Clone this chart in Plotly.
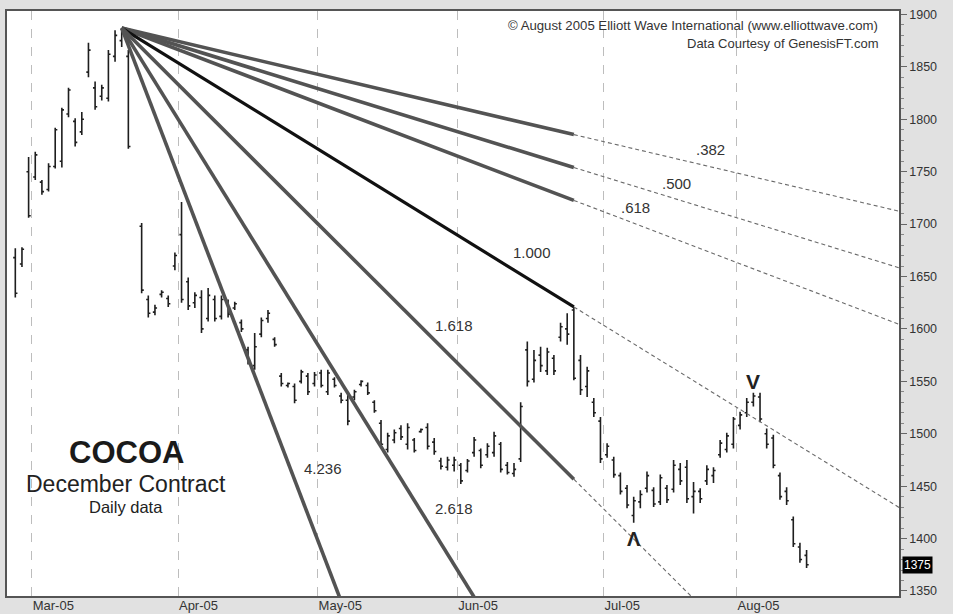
import plotly.graph_objects as go

# ---------------- data ----------------
dates = [
    "2005-02-24", "2005-02-25", "2005-02-28",
    "2005-03-01", "2005-03-02", "2005-03-03", "2005-03-04", "2005-03-07", "2005-03-08", "2005-03-09",
    "2005-03-10", "2005-03-11", "2005-03-14", "2005-03-15", "2005-03-16", "2005-03-17", "2005-03-18",
    "2005-03-21", "2005-03-22", "2005-03-23", "2005-03-24", "2005-03-28", "2005-03-29", "2005-03-30",
    "2005-03-31",
    "2005-04-01", "2005-04-04", "2005-04-05", "2005-04-06", "2005-04-07", "2005-04-08", "2005-04-11",
    "2005-04-12", "2005-04-13", "2005-04-14", "2005-04-15", "2005-04-18", "2005-04-19", "2005-04-20",
    "2005-04-21", "2005-04-22", "2005-04-25", "2005-04-26", "2005-04-27", "2005-04-28", "2005-04-29",
    "2005-05-02", "2005-05-03", "2005-05-04", "2005-05-05", "2005-05-06", "2005-05-09", "2005-05-10",
    "2005-05-11", "2005-05-12", "2005-05-13", "2005-05-16", "2005-05-17", "2005-05-18", "2005-05-19",
    "2005-05-20", "2005-05-23", "2005-05-24", "2005-05-25", "2005-05-26", "2005-05-27", "2005-05-31",
    "2005-06-01", "2005-06-02", "2005-06-03", "2005-06-06", "2005-06-07", "2005-06-08", "2005-06-09",
    "2005-06-10", "2005-06-13", "2005-06-14", "2005-06-15", "2005-06-16", "2005-06-17", "2005-06-20",
    "2005-06-21", "2005-06-22", "2005-06-23", "2005-06-24", "2005-06-27", "2005-06-28", "2005-06-29",
    "2005-06-30",
    "2005-07-01", "2005-07-05", "2005-07-06", "2005-07-07", "2005-07-08", "2005-07-11", "2005-07-12",
    "2005-07-13", "2005-07-14", "2005-07-15", "2005-07-18", "2005-07-19", "2005-07-20", "2005-07-21",
    "2005-07-22", "2005-07-25", "2005-07-26", "2005-07-27", "2005-07-28", "2005-07-29",
    "2005-08-01", "2005-08-02", "2005-08-03", "2005-08-04", "2005-08-05", "2005-08-08", "2005-08-09",
    "2005-08-10", "2005-08-11", "2005-08-12", "2005-08-15",
]

high = [1677, 1678, 1764,
        1769, 1742, 1758, 1792, 1811, 1830, 1801, 1807, 1873, 1836, 1833, 1866, 1885, 1887, 1866, None,
        1701, 1632, 1623, 1637, 1632, 1673,
        1721, 1649, 1635, 1637, 1639, 1632, 1632, 1628, 1626, 1609, 1583, 1596, 1611, 1618, 1592, 1558,
        1549, 1548, 1561, 1558, 1559,
        1561, 1561, 1554, 1539, 1539, 1542, 1551, 1549, 1532, 1513, 1501, 1504, 1508, 1510, 1496, 1505,
        1510, 1496, 1477, 1478, 1478,
        1472, 1476, 1497, 1486, 1491, 1502, 1492, 1473, 1472, 1530, 1588, 1580, 1583, 1582, 1575, 1606,
        1615, 1621, 1575, 1564, 1534, 1516,
        1491, 1478, 1463, 1451, 1440, 1446, 1464, 1449, 1461, 1451, 1475, 1472, 1475, 1454, 1448, 1470,
        1468, 1494, 1501, 1516,
        1521, 1534, 1539, 1539, 1505, 1499, 1463, 1449, 1421, 1396, 1389]

low = [1630, 1659, 1706,
       1742, 1728, 1731, 1753, 1754, 1802, 1774, 1785, 1840, 1809, 1818, 1817, 1855, 1869, 1772, None,
       1634, 1611, 1613, 1630, 1621, 1656,
       1625, 1618, 1620, 1596, 1607, 1607, 1609, 1611, 1618, 1597, 1566, 1561, 1592, 1606, 1583, 1545,
       1544, 1529, 1548, 1537, 1545,
       1544, 1537, 1544, 1529, 1508, 1532, 1545, 1537, 1520, 1487, 1482, 1491, 1494, 1485, 1482, 1501,
       1485, 1480, 1466, 1465, 1464,
       1452, 1463, 1478, 1467, 1477, 1478, 1463, 1461, 1459, 1473, 1545, 1549, 1559, 1556, 1556, 1588,
       1585, 1551, 1537, 1535, 1516, 1472,
       1477, 1458, 1442, 1429, 1415, 1429, 1444, 1430, 1432, 1434, 1444, 1451, 1434, 1424, 1434, 1451,
       1453, 1477, 1482, 1486,
       1504, 1516, 1526, 1511, 1486, 1467, 1437, 1432, 1392, 1377, 1372]

open_ = [1668, 1662, 1750,
         1745, 1740, 1733, 1755, 1760, 1805, 1798, 1788, 1845, 1830, 1822, 1820, 1860, 1875, 1860, None,
         1698, 1628, 1616, 1633, 1629, 1660,
         1690, 1645, 1625, 1630, 1610, 1628, 1612, 1625, 1620, 1606, 1580, 1565, 1595, 1610, 1590, 1555,
         1546, 1545, 1550, 1555, 1548,
         1558, 1540, 1552, 1536, 1532, 1535, 1547, 1546, 1530, 1510, 1485, 1494, 1505, 1490, 1494, 1502,
         1506, 1492, 1474, 1468, 1470,
         1470, 1465, 1482, 1484, 1480, 1482, 1490, 1470, 1462, 1476, 1580, 1552, 1575, 1560, 1572, 1592,
         1600, 1618, 1570, 1545, 1530, 1512,
         1480, 1475, 1460, 1448, 1422, 1435, 1448, 1446, 1435, 1448, 1447, 1466, 1468, 1440, 1445, 1455,
         1460, 1480, 1485, 1490,
         1508, 1520, 1530, 1535, 1500, 1496, 1460, 1445, 1418, 1392, 1384]

close = [1634, 1676, 1708,
         1766, 1731, 1755, 1790, 1809, 1828, 1778, 1800, 1866, 1812, 1830, 1862, 1880, 1882, 1774, None,
         1637, 1615, 1620, 1635, 1624, 1670,
         1628, 1622, 1632, 1600, 1632, 1610, 1628, 1614, 1624, 1600, 1570, 1583, 1608, 1615, 1585, 1548,
         1548, 1532, 1559, 1540, 1556,
         1546, 1558, 1546, 1532, 1512, 1540, 1550, 1539, 1522, 1490, 1498, 1501, 1497, 1506, 1484, 1504,
         1488, 1483, 1469, 1475, 1475,
         1455, 1474, 1494, 1470, 1488, 1498, 1466, 1463, 1466, 1526, 1550, 1570, 1565, 1578, 1560, 1602,
         1595, 1553, 1542, 1560, 1520, 1476,
         1488, 1461, 1445, 1432, 1436, 1442, 1460, 1433, 1458, 1437, 1470, 1455, 1438, 1445, 1438, 1466,
         1465, 1491, 1498, 1514,
         1518, 1530, 1536, 1514, 1490, 1470, 1440, 1436, 1395, 1380, 1375]

fan_ratios = [0.382, 0.5, 0.618, 1.0, 1.618, 2.618, 4.236]
fan_labels = [".382", ".500", ".618", "1.000", "1.618", "2.618", "4.236"]
# label anchor points (trading-day index, price)
fan_label_x = [104.5, 99.5, 93.3, 77.7, 66.0, 66.0, 46.2]
fan_label_y = [1771, 1739, 1716, 1673, 1603, 1429, 1467]
fan_anchor_date = "2005-06-24"   # the 1.000 line passes through this day's high

month_names = ["Jan", "Feb", "Mar", "Apr", "May", "Jun", "Jul", "Aug", "Sep", "Oct", "Nov", "Dec"]
y_ticks = [1350, 1400, 1450, 1500, 1550, 1600, 1650, 1700, 1750, 1800, 1850, 1900]
last_price = close[-1]

# ---------------- derived ----------------
idx = list(range(len(dates)))
rows = [(i, o, h, l, c) for i, o, h, l, c in zip(idx, open_, high, low, close) if h is not None]
bx = [r[0] for r in rows]
bo = [r[1] for r in rows]
bh = [r[2] for r in rows]
bl = [r[3] for r in rows]
bc = [r[4] for r in rows]

X_MIN, X_MAX = -1.25, 132.9
Y_MIN, Y_MAX = 1345.2, 1903.3

# month boundaries (gridlines halfway between last day of month and first day of next)
month_vals, month_text = [], []
for i in range(1, len(dates)):
    if dates[i][5:7] != dates[i - 1][5:7]:
        month_vals.append(i - 0.5)
        month_text.append(month_names[int(dates[i][5:7]) - 1] + "-" + dates[i][2:4])

valid_highs = [h if h is not None else -1 for h in high]
origin_i = valid_highs.index(max(valid_highs))
origin_p = high[origin_i]
anchor_i = dates.index(fan_anchor_date)
anchor_p = high[anchor_i]
base_slope = (anchor_p - origin_p) / (anchor_i - origin_i)

fig = go.Figure()

fig.add_trace(go.Ohlc(
    x=bx, open=bo, high=bh, low=bl, close=bc,
    increasing=dict(line=dict(color="#1e1e1e", width=1.6)),
    decreasing=dict(line=dict(color="#1e1e1e", width=1.6)),
    tickwidth=0.32, hoverinfo="skip", showlegend=False,
))

for r in fan_ratios:
    s = base_slope * r
    y_anchor = origin_p + s * (anchor_i - origin_i)
    y_end = origin_p + s * (X_MAX - origin_i)
    fig.add_trace(go.Scatter(
        x=[anchor_i, X_MAX], y=[y_anchor, y_end], mode="lines",
        line=dict(color="#6a6a6a", width=1.1, dash="4px,3px"),
        hoverinfo="skip", showlegend=False,
    ))
    is_one = abs(r - 1.0) < 1e-9
    fig.add_trace(go.Scatter(
        x=[origin_i, anchor_i], y=[origin_p, y_anchor], mode="lines",
        line=dict(color="#111111" if is_one else "#535353", width=3.2 if is_one else 3.6),
        hoverinfo="skip", showlegend=False,
    ))

FONT = "Liberation Sans, Arial"
annotations = []
for lab, lx, ly in zip(fan_labels, fan_label_x, fan_label_y):
    annotations.append(dict(x=lx, y=ly, text=lab, showarrow=False, xanchor="center", yanchor="middle",
                            font=dict(family=FONT, size=15, color="#333333")))

# swing markers
lo_i = 93
hi_i = 111
annotations.append(dict(x=hi_i, y=high[hi_i], text="<b>V</b>", showarrow=False, xanchor="center",
                        yanchor="bottom", yshift=-2,
                        font=dict(family=FONT, size=21, color="#222222")))
annotations.append(dict(x=lo_i, y=low[lo_i], text="<b>Λ</b>", showarrow=False, xanchor="center",
                        yanchor="top", yshift=-3,
                        font=dict(family=FONT, size=20, color="#222222")))

PW, PH, PL, PB = 892, 585, 7, 596


def px(xp):
    return (xp - PL) / PW


def py(yp):
    return (PB - yp) / PH


annotations += [
    dict(xref="paper", yref="paper", x=px(126), y=py(452), text="<b>COCOA</b>", showarrow=False,
         xanchor="center", yanchor="middle", font=dict(family=FONT, size=31, color="#1a1a1a")),
    dict(xref="paper", yref="paper", x=px(126), y=py(484), text="December Contract", showarrow=False,
         xanchor="center", yanchor="middle", font=dict(family=FONT, size=23, color="#222222")),
    dict(xref="paper", yref="paper", x=px(126), y=py(507), text="Daily data", showarrow=False,
         xanchor="center", yanchor="middle", font=dict(family=FONT, size=16.5, color="#222222")),
    dict(xref="paper", yref="paper", x=px(880), y=py(25), xanchor="right", yanchor="middle",
         text="© August 2005 Elliott Wave International (www.elliottwave.com)", showarrow=False,
         font=dict(family=FONT, size=13.2, color="#333333")),
    dict(xref="paper", yref="paper", x=px(880), y=py(43), xanchor="right", yanchor="middle",
         text="Data Courtesy of GenesisFT.com", showarrow=False,
         font=dict(family=FONT, size=13, color="#333333")),
    dict(xref="paper", yref="y", x=1, y=last_price, xanchor="left", yanchor="middle", xshift=3,
         text=str(last_price), showarrow=False, bgcolor="#000000", borderpad=1,
         font=dict(family=FONT, size=12, color="#ffffff")),
]

fig.update_layout(
    width=953, height=614,
    margin=dict(l=7, r=54, t=11, b=18, autoexpand=False),
    paper_bgcolor="#e1e1e1", plot_bgcolor="#ffffff",
    showlegend=False,
    annotations=annotations,
    xaxis=dict(
        range=[X_MIN, X_MAX], tickvals=month_vals, ticktext=month_text, automargin=False,
        ticklabelposition="outside right", ticks="", ticklabelstandoff=-3,
        showgrid=True, gridcolor="#bdbdbd", griddash="dash", gridwidth=1,
        showline=True, linecolor="#555555", linewidth=1.5, mirror=True,
        zeroline=False, rangeslider=dict(visible=False),
        tickfont=dict(family="Liberation Sans Narrow, Liberation Sans, Arial", size=13, color="#333333"),
    ),
    yaxis=dict(
        range=[Y_MIN, Y_MAX], side="right", tickvals=y_ticks, automargin=False,
        ticks="outside", ticklen=6, tickcolor="#666666",
        minor=dict(dtick=10, ticks="outside", ticklen=3, tickcolor="#888888", showgrid=False),
        showgrid=False, showline=True, linecolor="#555555", linewidth=1.5, mirror=True,
        zeroline=False,
        tickfont=dict(family=FONT, size=12.5, color="#333333"),
    ),
)

fig.write_html("out.html", config={"displayModeBar": False},
               post_script="document.body.style.margin='0';document.body.style.background='#e1e1e1';")
